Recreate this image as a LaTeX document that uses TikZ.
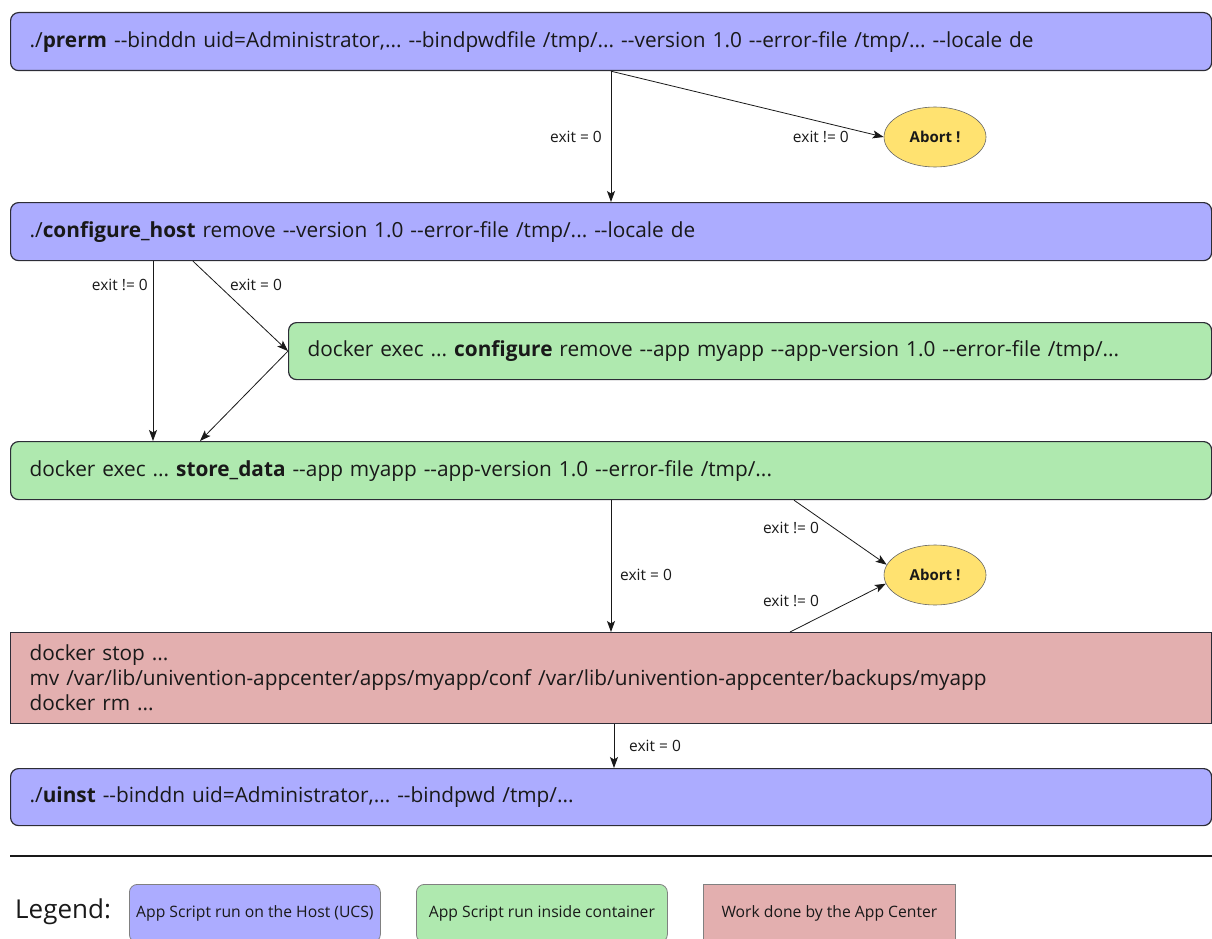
\documentclass[tikz,border=0pt]{standalone}
\usepackage{fontspec}
\setmainfont{Open Sans}[Ligatures=TeXOff]
\usetikzlibrary{arrows.meta,shapes.geometric}
\frenchspacing

\definecolor{hostblue}{RGB}{172,172,255}
\definecolor{contgreen}{RGB}{175,233,175}
\definecolor{acred}{RGB}{227,175,175}
\definecolor{abortyellow}{RGB}{255,226,112}
\definecolor{edgegray}{RGB}{45,45,55}
\definecolor{inkgray}{RGB}{25,25,25}

\tikzset{
  basebox/.style={draw=edgegray, line width=1.2pt, anchor=north west,
    minimum height=58pt, inner xsep=19pt, inner ysep=0pt, align=left,
    text=inkgray, font=\fontsize{20.8}{25}\selectfont},
  hostbox/.style={basebox, fill=hostblue, rounded corners=8pt},
  contbox/.style={basebox, fill=contgreen, rounded corners=8pt},
  acbox/.style={basebox, fill=acred},
  abort/.style={ellipse, draw=gray!80!black, line width=0.6pt, fill=abortyellow,
    minimum width=102pt, minimum height=60pt, inner sep=0pt,
    font=\fontsize{15}{17}\selectfont\bfseries, text=inkgray},
  lbl/.style={inner sep=0pt, font=\fontsize{15.5}{17}\selectfont, text=inkgray},
  arr/.style={-{Stealth[length=11pt,width=8pt,inset=2.5pt]}, line width=0.8pt, draw=inkgray},
  legbox/.style={draw=gray, line width=0.8pt, minimum width=251pt, minimum height=58pt,
    inner sep=0pt, font=\fontsize{15.7}{17}\selectfont, text=inkgray}
}

\begin{document}
\begin{tikzpicture}[x=1pt,y=-1pt]
\useasboundingbox (0,0) rectangle (1212,939);
\clip (0,0) rectangle (1212,939);

% command boxes
\node[hostbox, text width=1163pt] (prerm) at (10,12)
  {./\textbf{prerm} --binddn uid=Administrator,... --bindpwdfile /tmp/... --version 1.0 --error-file /tmp/... --locale de};
\node[hostbox, text width=1163pt] (cfghost) at (10,202)
  {./\textbf{configure\_host} remove --version 1.0 --error-file /tmp/... --locale de};
\node[contbox, text width=885pt, minimum height=57pt] (cfg) at (288,322)
  {docker exec ... \textbf{configure} remove --app myapp --app-version 1.0 --error-file /tmp/...};
\node[contbox, text width=1163pt] (store) at (10,441)
  {docker exec ... \textbf{store\_data} --app myapp --app-version 1.0 --error-file /tmp/...};
\node[acbox, text width=1163pt, minimum height=91pt] (acwork) at (10,632)
  {docker stop ...\\mv /var/lib/univention-appcenter/apps/myapp/conf /var/lib/univention-appcenter/backups/myapp\\docker rm ...};
\node[hostbox, text width=1163pt, minimum height=57pt] (uinst) at (10,768)
  {./\textbf{uinst} --binddn uid=Administrator,... --bindpwd /tmp/...};

% abort states
\node[abort] (abortA) at (935,137) {Abort !};
\node[abort] (abortB) at (935,575) {Abort !};

% connector columns
\coordinate (colA) at (611,0);
\coordinate (colB) at (153,0);
\coordinate (colC) at (193,0);
\coordinate (colD) at (200,0);
\coordinate (colE) at (794,0);
\coordinate (colF) at (790,0);
\coordinate (colG) at (614,0);

% connectors
\draw[arr] (prerm.south -| colA) -- (cfghost.north -| colA);
\draw[arr] (prerm.south -| colA) -- (abortA.west);
\draw[arr] (cfghost.south -| colB) -- (store.north -| colB);
\draw[arr] (cfghost.south -| colC) -- (cfg.west);
\draw[arr] (cfg.west) -- (store.north -| colD);
\draw[arr] (store.south -| colA) -- (acwork.north -| colA);
\draw[arr] (store.south -| colE) -- (abortB.168);
\draw[arr] (acwork.north -| colF) -- (abortB.190);
\draw[arr] (acwork.south -| colG) -- (uinst.north -| colG);

% connector labels
\node[lbl, anchor=east] (l1) at (602,137) {exit = 0};
\node[lbl, anchor=east] (l2) at (849,137) {exit != 0};
\node[lbl, anchor=east] (l3) at (148,285) {exit != 0};
\node[lbl, anchor=west] (l4) at (230,285) {exit = 0};
\node[lbl, anchor=west] (l5) at (620,575) {exit = 0};
\node[lbl] (l6) at (791,528) {exit != 0};
\node[lbl] (l7) at (791,601) {exit != 0};
\node[lbl, anchor=west] (l8) at (629,746) {exit = 0};

% legend
\coordinate (ruleL) at (10,856);
\coordinate (ruleR) at (1212,856);
\draw[line width=1.3pt, draw=inkgray] (ruleL) -- (ruleR);
\node[anchor=west, inner sep=0pt, text=inkgray, font=\fontsize{26}{30}\selectfont] (legtitle) at (15,912) {Legend:};
\node[legbox, fill=hostblue, rounded corners=8pt, anchor=north west] (leghost) at (129,884) {App Script run on the Host (UCS)};
\node[legbox, fill=contgreen, rounded corners=8pt, anchor=north west] (legcont) at (416,884) {App Script run inside container};
\node[legbox, fill=acred, anchor=north west, minimum width=252pt] (legac) at (703,884) {Work done by the App Center};
\end{tikzpicture}
\end{document}
